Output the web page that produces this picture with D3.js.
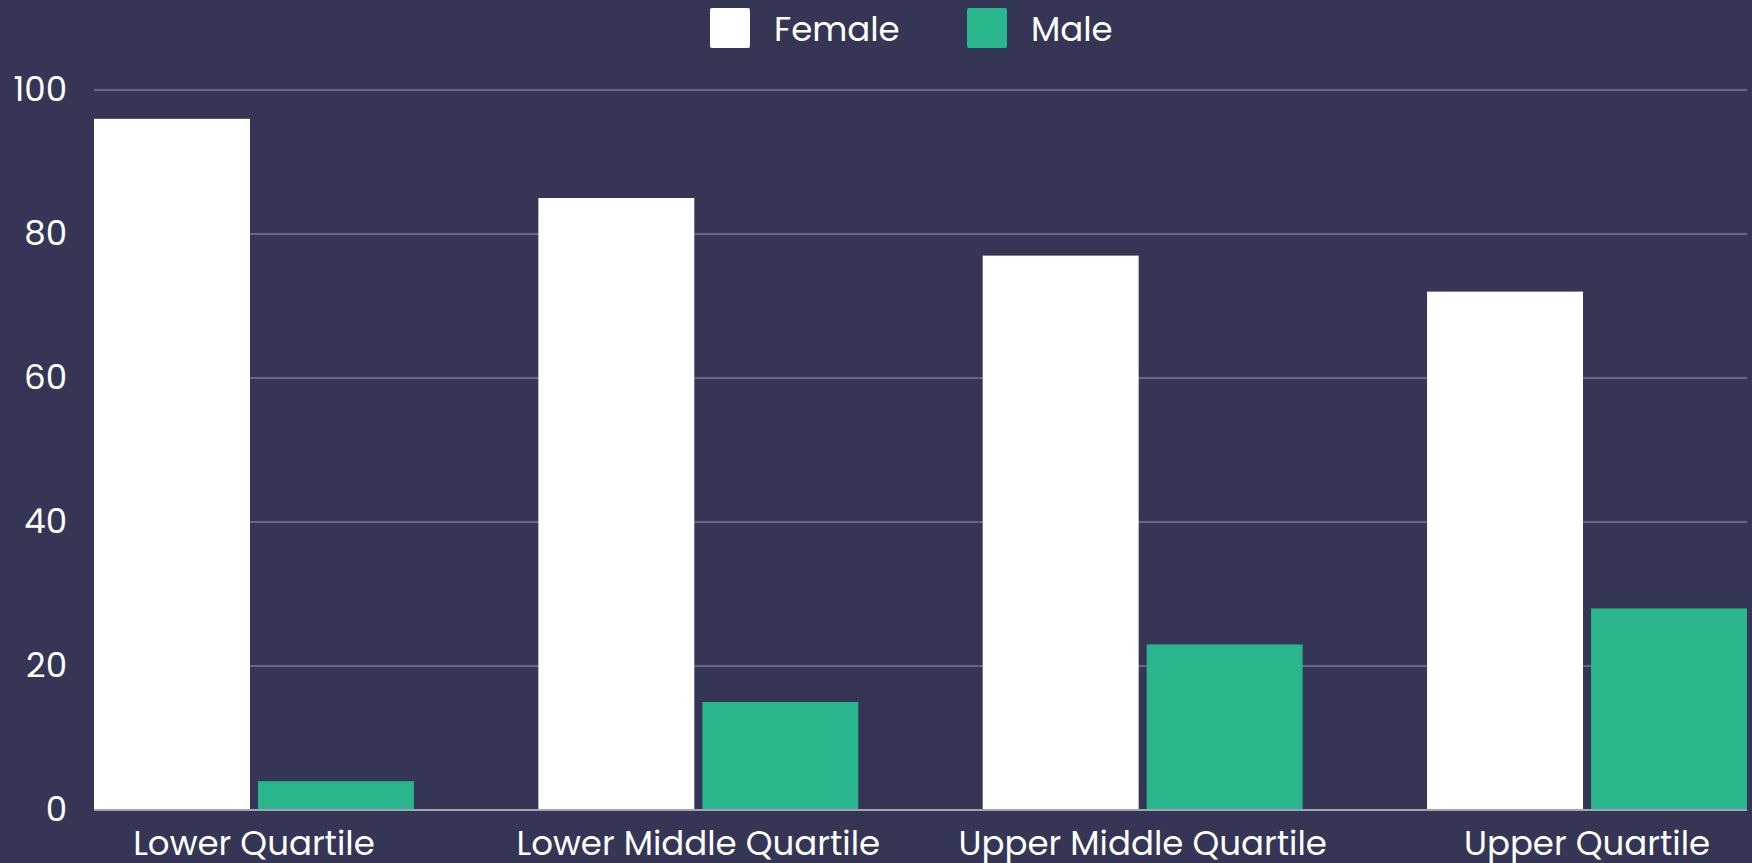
<!DOCTYPE html>
<html>
<head>
<meta charset="utf-8">
<script src="https://cdn.jsdelivr.net/npm/d3@7"></script>
<style>
  html, body { margin: 0; padding: 0; background: #353556; }
  svg text { font-family: Poppins, Inter, "Open Sans", sans-serif; fill: #ffffff; }
</style>
</head>
<body>
<div id="chart"></div>
<script>
// chart data
var categories = ["Lower Quartile", "Lower Middle Quartile", "Upper Middle Quartile", "Upper Quartile"];
var seriesNames = ["Female", "Male"];
var femaleValues = [96, 85, 77, 72];
var maleValues = [4, 15, 23, 28];
var yTicks = [0, 20, 40, 60, 80, 100];
var colors = ["#ffffff", "#2ab68c"];

var totalW = 1752, totalH = 863;
var margin = {top: 90, right: 5, bottom: 53, left: 94},
    width = totalW - margin.left - margin.right,
    height = totalH - margin.top - margin.bottom;

var svg = d3.select("#chart")
  .append("svg")
    .attr("width", totalW)
    .attr("height", totalH);

var g = svg.append("g")
    .attr("transform", "translate(" + margin.left + "," + margin.top + ")");

// scales
var x0 = d3.scaleBand()
  .domain(categories)
  .range([0, width])
  .paddingInner(0.28)
  .paddingOuter(0);

var x1 = d3.scaleBand()
  .domain(seriesNames)
  .range([0, x0.bandwidth()])
  .paddingInner(0.049);

var y = d3.scaleLinear()
  .domain([0, 100])
  .range([height, 0]);

// gridlines
g.append("g")
  .selectAll("line")
  .data(yTicks.filter(d => d > 0))
  .enter()
  .append("line")
    .attr("x1", 0)
    .attr("x2", width)
    .attr("y1", d => y(d))
    .attr("y2", d => y(d))
    .attr("stroke", "#676685")
    .attr("stroke-width", 2);

// y axis labels
var yAxis = g.append("g")
  .call(d3.axisLeft(y).tickValues(yTicks).tickSize(0).tickPadding(27));
yAxis.select(".domain").remove();
yAxis.selectAll("text")
  .style("font-size", "34px")
  .attr("fill", "#ffffff");

// data rows
var rows = categories.map((c, i) => ({cat: c, values: [femaleValues[i], maleValues[i]]}));

var groups = g.append("g")
  .selectAll("g")
  .data(rows)
  .enter()
  .append("g")
    .attr("transform", d => "translate(" + x0(d.cat) + ",0)");

groups.selectAll("rect")
  .data(d => d.values.map((v, j) => ({key: seriesNames[j], value: v, color: colors[j]})))
  .enter()
  .append("rect")
    .attr("x", d => x1(d.key))
    .attr("y", d => y(d.value))
    .attr("width", x1.bandwidth())
    .attr("height", d => height - y(d.value))
    .attr("fill", d => d.color);

// baseline
g.append("line")
  .attr("x1", 0)
  .attr("x2", width)
  .attr("y1", height)
  .attr("y2", height)
  .attr("stroke", "#a4a4b8")
  .attr("stroke-width", 2);

// x axis labels
var xAxis = g.append("g")
  .attr("transform", "translate(0," + height + ")")
  .call(d3.axisBottom(x0).tickSize(0).tickPadding(21));
xAxis.select(".domain").remove();
xAxis.selectAll("text")
  .style("font-size", "34px")
  .attr("fill", "#ffffff");

// legend
var legend = svg.append("g");
var legendX = [710, 967];
seriesNames.forEach((s, i) => {
  legend.append("rect")
    .attr("x", legendX[i])
    .attr("y", 8)
    .attr("width", 40)
    .attr("height", 40)
    .attr("rx", 2)
    .attr("fill", colors[i]);
  legend.append("text")
    .attr("x", legendX[i] + 64)
    .attr("y", 41)
    .style("font-size", "34px")
    .text(s);
});
</script>
</body>
</html>
